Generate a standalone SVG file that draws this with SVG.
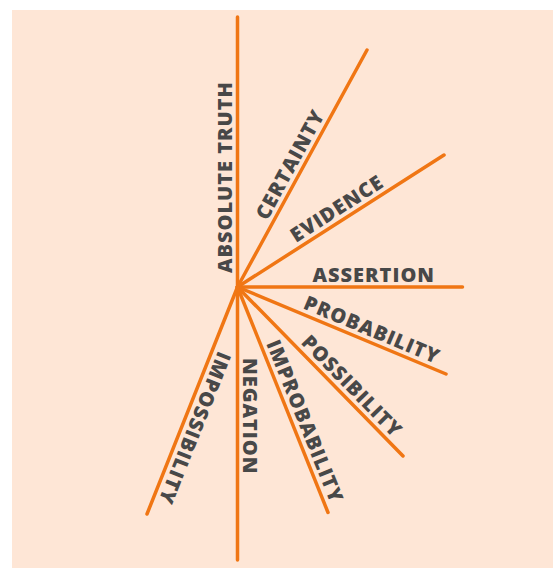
<svg xmlns="http://www.w3.org/2000/svg" width="553" height="568" viewBox="0 0 553 568">
  <style>
    .ray { stroke: #f07614; stroke-width: 3.5; stroke-linecap: round; fill: none; }
    .lbl { font-family: "Open Sans", "Noto Sans", "DejaVu Sans", sans-serif; font-weight: 800; font-size: 20px; letter-spacing: 1px; fill: #484848; }
  </style>
  <rect x="12" y="10" width="541" height="558" fill="#fee6d6"/>

  <!-- rays from the common hub -->
  <g id="connectors">
    <line class="ray" x1="237.5" y1="287" x2="237.5" y2="17"/>
    <line class="ray" x1="237.5" y1="287" x2="367" y2="50"/>
    <line class="ray" x1="237.5" y1="287" x2="444" y2="155"/>
    <line class="ray" x1="237.5" y1="287" x2="462.5" y2="287"/>
    <line class="ray" x1="237.5" y1="287" x2="446" y2="374"/>
    <line class="ray" x1="237.5" y1="287" x2="403" y2="456"/>
    <line class="ray" x1="237.5" y1="287" x2="328" y2="512.5"/>
    <line class="ray" x1="237.5" y1="287" x2="237.5" y2="560"/>
    <line class="ray" x1="237.5" y1="287" x2="147" y2="514"/>
  </g>

  <!-- labels, each rotated along its ray -->
  <g id="absolute-truth" transform="translate(237.5,287) rotate(-90)">
    <text class="lbl" x="14" y="-5.5">ABSOLUTE TRUTH</text>
  </g>
  <g id="certainty" transform="translate(237.5,287) rotate(-61.4)">
    <text class="lbl" x="72" y="-5.5">CERTAINTY</text>
  </g>
  <g id="evidence" transform="translate(237.5,287) rotate(-32.6)">
    <text class="lbl" x="73" y="-5.5">EVIDENCE</text>
  </g>
  <g id="assertion" transform="translate(237.5,287)">
    <text class="lbl" x="75" y="-5">ASSERTION</text>
  </g>
  <g id="probability" transform="translate(237.5,287) rotate(22.7)">
    <text class="lbl" x="68" y="-5.5">PROBABILITY</text>
  </g>
  <g id="possibility" transform="translate(237.5,287) rotate(45.6)">
    <text class="lbl" x="84" y="-5.5">POSSIBILITY</text>
  </g>
  <g id="improbability" transform="translate(237.5,287) rotate(68.1)">
    <text class="lbl" x="63" y="-5.5">IMPROBABILITY</text>
  </g>
  <g id="negation" transform="translate(237.5,287) rotate(90)">
    <text class="lbl" x="71" y="-5.5">NEGATION</text>
  </g>
  <g id="impossibility" transform="translate(237.5,287) rotate(111.7)">
    <text class="lbl" x="66" y="-5.5">IMPOSSIBILITY</text>
  </g>
</svg>
